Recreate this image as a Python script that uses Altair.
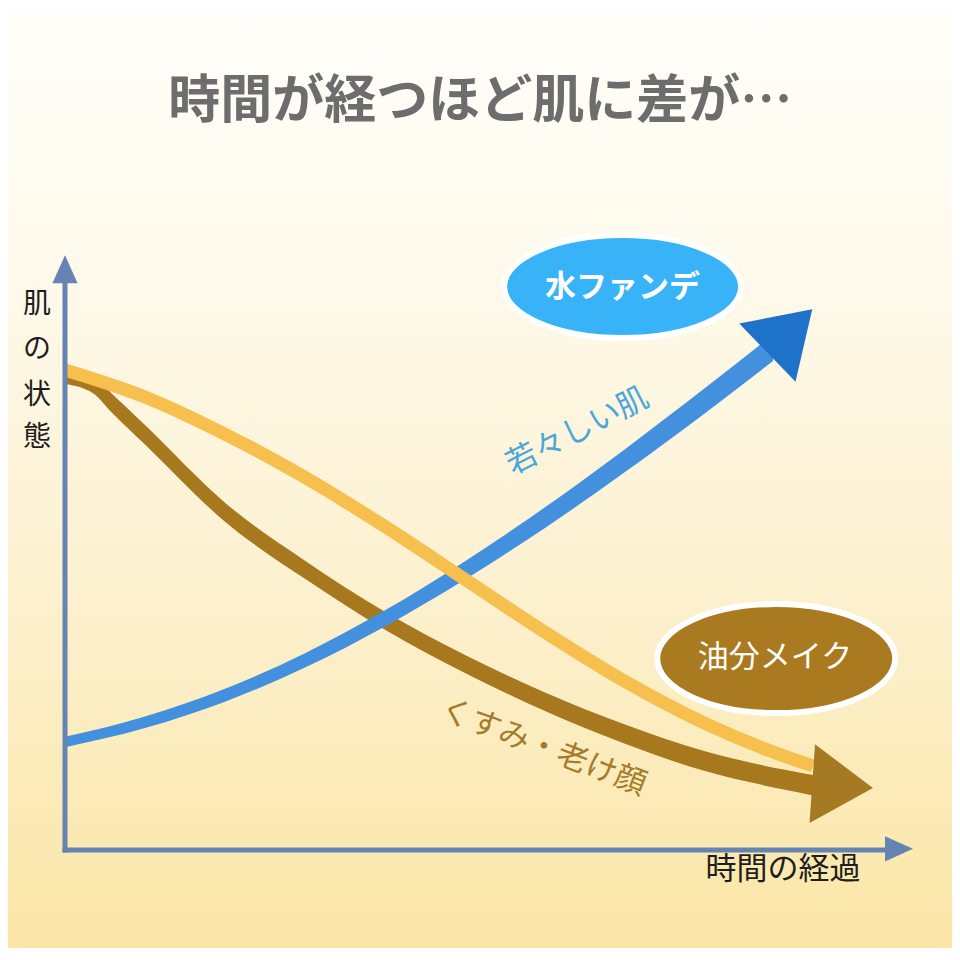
import altair as alt
import numpy as np
import pandas as pd

FONT = "Noto Sans CJK JP"

# ---------------- series values (time units / skin-condition units) ----------------
blue_t = [0, 1, 2, 3, 4, 5, 6, 7, 8, 8.85]
blue_v = [1.80, 2.13, 2.58, 3.16, 3.86, 4.66, 5.54, 6.49, 7.49, 8.37]
blue_w = [10, 11, 12, 13, 14, 15.5, 17, 18.5, 20, 21]

yellow_t = [0, 1, 2, 3, 4, 5, 6, 7, 8, 9, 9.35]
yellow_v = [8.00, 7.55, 6.93, 6.21, 5.39, 4.51, 3.63, 2.81, 2.11, 1.56, 1.40]

brown_t = [0, 0.35, 0.6, 1, 2, 3, 4, 5, 6, 7, 8, 9, 9.35]
brown_v = [7.88, 7.75, 7.43, 6.92, 5.63, 4.67, 3.82, 3.10, 2.47, 1.93, 1.48, 1.17, 1.08]
brown_w = [13, 13.5, 13.7, 14, 14.5, 15, 15.5, 16, 17, 18, 19, 19.5, 20]

# ---------------- texts ----------------
title_text = "時間が経つほど肌に差が…"
y_label_chars = ["肌", "の", "状", "態"]
y_label_v = [9.08, 8.33, 7.57, 6.87]
x_label_text = "時間の経過"
blue_name = "水ファンデ"
brown_name = "油分メイク"
blue_note = "若々しい肌"
brown_note = "くすみ・老け顔"

# ---------------- colours ----------------
AXIS_C = "#6584B4"
BLUE = "#4390DE"
BLUE_HEAD = "#1E72CA"
YELLOW = "#F6BF4E"
BROWN = "#A8781E"
BROWN_HEAD = "#A67A22"
BLUE_BADGE = "#39B3F7"
BROWN_BADGE = "#AA7A20"
BLUE_TXT = "#4BA6DA"
BROWN_TXT = "#A57B2A"

# ---------------- frame ----------------
W, H = 944, 940
XDOM = [-0.7125, 11.0875]
YDOM = [-1.6333, 14.0333]
PX_PER_T = W / (XDOM[1] - XDOM[0])
PX_PER_V = H / (YDOM[1] - YDOM[0])


def X(f="t"):
    return alt.X(f"{f}:Q", scale=alt.Scale(domain=XDOM, nice=False, zero=False), axis=None)


def Y(f="v"):
    return alt.Y(f"{f}:Q", scale=alt.Scale(domain=YDOM, nice=False, zero=False), axis=None)


def band(t, v, w):
    """Upper/lower edges of a stroke of pixel width w around the centre line."""
    t = np.asarray(t, float)
    v = np.asarray(v, float)
    w = np.asarray(w, float)
    slope = np.gradient(v * PX_PER_V, t * PX_PER_T)
    half = (w / 2) * np.sqrt(1 + slope ** 2) / PX_PER_V
    return pd.DataFrame({"t": t, "hi": v + half, "lo": v - half})


def ellipse_path(r):
    k = 0.5523
    return (f"M-1,0 C-1,{-k*r:.4f} {-k:.4f},{-r:.4f} 0,{-r:.4f} "
            f"C{k:.4f},{-r:.4f} 1,{-k*r:.4f} 1,0 "
            f"C1,{k*r:.4f} {k:.4f},{r:.4f} 0,{r:.4f} "
            f"C{-k:.4f},{r:.4f} -1,{k*r:.4f} -1,0 Z")


ARROW = "M0,-0.77 L1,0.77 L-1,0.77 Z"
AX_ARROW = "M0,-1 L0.9,1 L-0.9,1 Z"

# background
grad = alt.Gradient(
    gradient="linear",
    stops=[
        alt.GradientStop(color="#FFFEFA", offset=0),
        alt.GradientStop(color="#FEF9EA", offset=0.3),
        alt.GradientStop(color="#FCF0CC", offset=0.65),
        alt.GradientStop(color="#FBE6A6", offset=1),
    ],
    x1=0, x2=0, y1=0, y2=1,
)
bg = alt.Chart(pd.DataFrame({"a": [0]})).mark_rect(fill=grad).encode(
    x=alt.value(0), x2=alt.value(W), y=alt.value(0), y2=alt.value(H)
)

# lines
brown_line = alt.Chart(band(brown_t, brown_v, brown_w)).mark_area(
    color=BROWN, opacity=1, interpolate="monotone"
).encode(x=X(), y=Y("hi"), y2="lo:Q")
blue_line = alt.Chart(band(blue_t, blue_v, blue_w)).mark_area(
    color=BLUE, opacity=1, interpolate="monotone"
).encode(x=X(), y=Y("hi"), y2="lo:Q")
yel_line = alt.Chart(pd.DataFrame({"t": yellow_t, "v": yellow_v})).mark_line(
    color=YELLOW, strokeWidth=13, strokeCap="butt", interpolate="monotone"
).encode(x=X(), y=Y(), order="t:Q")

blue_head = alt.Chart(pd.DataFrame({"t": [9.06], "v": [8.65]})).mark_point(
    shape=ARROW, filled=True, size=81 ** 2, angle=46, color=BLUE_HEAD, opacity=1
).encode(x=X(), y=Y())
brown_head = alt.Chart(pd.DataFrame({"t": [9.72], "v": [1.07]})).mark_point(
    shape=ARROW, filled=True, size=79 ** 2, angle=94, color=BROWN_HEAD, opacity=1
).encode(x=X(), y=Y())

# axes
axes_df = pd.DataFrame({"t": [0, -0.03], "v": [-0.04, 0], "t2": [0, 10.28], "v2": [9.45, 0]})
axes = alt.Chart(axes_df).mark_rule(color=AXIS_C, strokeWidth=5).encode(
    x=X(), y=Y(), x2="t2:Q", y2="v2:Q"
)
y_head = alt.Chart(pd.DataFrame({"t": [0], "v": [9.68]})).mark_point(
    shape=AX_ARROW, filled=True, size=28 ** 2, color=AXIS_C, opacity=1
).encode(x=X(), y=Y())
x_head = alt.Chart(pd.DataFrame({"t": [10.425], "v": [0.02]})).mark_point(
    shape=AX_ARROW, filled=True, size=28 ** 2, angle=90, color=AXIS_C, opacity=1
).encode(x=X(), y=Y())

# badges
blue_badge = alt.Chart(pd.DataFrame({"t": [6.97], "v": [9.39]})).mark_point(
    shape=ellipse_path(0.4346), filled=True, size=(2 * 118.5) ** 2,
    fill=BLUE_BADGE, stroke="white", strokeWidth=6, opacity=1, fillOpacity=1, strokeOpacity=1
).encode(x=X(), y=Y())
brown_badge = alt.Chart(pd.DataFrame({"t": [8.89], "v": [3.19]})).mark_point(
    shape=ellipse_path(0.458), filled=True, size=(2 * 119) ** 2,
    fill=BROWN_BADGE, stroke="white", strokeWidth=6, opacity=1, fillOpacity=1, strokeOpacity=1
).encode(x=X(), y=Y())


def text_layer(label, t, v, size, color, weight="normal", angle=0):
    kw = dict(font=FONT, fontSize=size, fontWeight=weight, color=color,
              align="center", baseline="middle")
    if angle:
        kw["angle"] = angle
    return alt.Chart(pd.DataFrame({"t": [t], "v": [v], "label": [label]})).mark_text(**kw).encode(
        x=X(), y=Y(), text="label:N"
    )


title = text_layer(title_text, 5.19, 12.47, 52, "#6D6D6D", "bold")
ylab = alt.Chart(pd.DataFrame({"t": [-0.35] * 4, "v": y_label_v, "label": y_label_chars})).mark_text(
    font=FONT, fontSize=28, color="#1E1E1E", align="center", baseline="middle"
).encode(x=X(), y=Y(), text="label:N")
xlab = text_layer(x_label_text, 8.975, -0.333, 31, "#1E1E1E")
blue_name_t = text_layer(blue_name, 6.97, 9.37, 31, "white", "bold")
brown_name_t = text_layer(brown_name, 8.875, 3.2, 31, "white")
blue_note_t = text_layer(blue_note, 6.41, 6.97, 31, BLUE_TXT, angle=333)
brown_note_t = text_layer(brown_note, 5.975, 1.70, 31, BROWN_TXT, angle=21)

chart = alt.layer(
    bg, brown_line, blue_line, yel_line, brown_head, blue_head, axes, y_head, x_head,
    blue_badge, brown_badge, title, ylab, xlab, blue_name_t, brown_name_t, blue_note_t, brown_note_t
).properties(
    width=W, height=H, autosize=alt.AutoSizeParams(type="none"), padding=0
).configure_view(stroke=None).configure(background="#FFFEFA")

chart.save("out.html", embed_options={"renderer": "svg", "actions": False})
